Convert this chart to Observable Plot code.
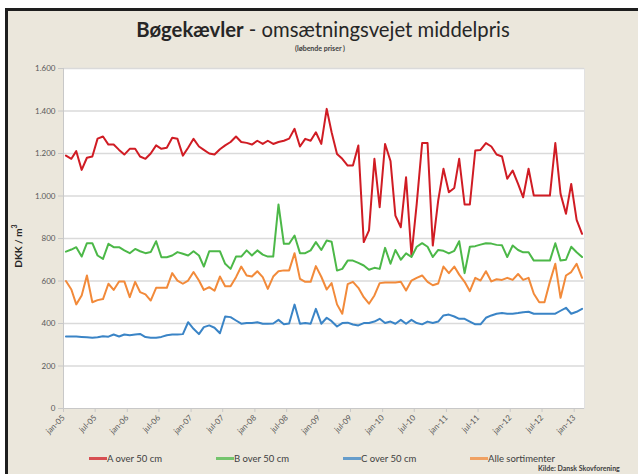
<!DOCTYPE html>
<html>
<head>
<meta charset="utf-8">
<script src="https://cdn.jsdelivr.net/npm/d3@7"></script>
<script src="https://cdn.jsdelivr.net/npm/@observablehq/plot@0.6"></script>
<style>
  html, body { margin: 0; padding: 0; background: #ffffff; }
  #wrap { position: relative; width: 638px; height: 474px; overflow: hidden; font-family: Lato, "Open Sans", sans-serif; }
  #frame { position: absolute; left: 5px; top: 8px; right: -10px; bottom: -10px; background: #ebe7dc; border-left: 3px solid #1e1e1e; border-top: 3px solid #1e1e1e; }
  #chart { position: absolute; left: 0; top: 0; }
  .t { position: absolute; white-space: nowrap; color: #262626; }
  #title { left: 0; width: 646px; top: 17px; text-align: center; font-size: 20.3px; }
  #sub { left: 0; width: 640px; top: 44px; text-align: center; font-size: 7px; font-weight: bold; color: #404040; }
  #ylab { left: 17px; top: 246px; transform: translate(-50%, -50%) rotate(-90deg); font-size: 10px; font-weight: bold; }
  #src { left: 538px; top: 464px; font-size: 7px; font-weight: bold; color: #404040; }
  .leg { position: absolute; top: 453px; font-size: 9.5px; color: #404040; display: flex; align-items: center; white-space: nowrap; }
  .leg span.sw { display: inline-block; width: 18px; height: 3px; margin-right: 0px; }
  #chart g[aria-label^="y-axis"] line, #chart g[aria-label^="y-axis"] path,
  #chart g[aria-label^="x-axis"] line, #chart g[aria-label^="x-axis"] path { stroke: #c8c8c8; }
  #chart g[aria-label^="x-axis"] text { font-size: 8px; }
</style>
</head>
<body>
<div id="wrap">
  <div id="frame"></div>
  <div id="chart"></div>
  <div class="t" id="title"><b>Bøgekævler</b> - omsætningsvejet middelpris</div>
  <div class="t" id="sub">(løbende priser )</div>
  <div class="t" id="ylab">DKK / m<sup style="font-size:7px">3</sup></div>
  <div class="t" id="src">Kilde: Dansk Skovforening</div>
  <div id="legend"></div>
</div>
<script>
// Monthly series, first value = January 2005
const seriesNames = ["A over 50 cm", "B over 50 cm", "C over 50 cm", "Alle sortimenter"];
const seriesColors = ["#d01c24", "#4cb848", "#3a84c6", "#f28a3a"];
const legendX = [89, 216, 343, 470];

const aOver50 = [1190,1175,1211,1123,1180,1186,1270,1280,1242,1242,1217,1195,1222,1222,1186,1175,1200,1238,1222,1227,
  1274,1269,1190,1227,1269,1233,1217,1200,1195,1220,1238,1254,1280,1254,1250,1242,1260,1245,1260,1245,
  1254,1260,1270,1316,1233,1269,1260,1300,1245,1410,1300,1198,1175,1143,1143,1238,783,838,1175,947,
  1245,1165,908,853,1088,720,963,1249,1249,767,979,1128,1018,1038,1175,960,960,1214,1217,1249,
  1233,1195,1186,1081,1120,1057,994,1128,1002,1002,1002,1002,1249,1010,916,1057,888,822];

const bOver50 = [738,748,759,715,778,778,720,704,775,759,759,744,731,751,740,731,736,787,712,712,
  720,736,728,720,740,720,668,740,740,740,681,657,715,715,744,720,744,724,715,715,
  960,775,775,814,731,731,744,783,746,791,785,649,657,696,696,685,673,653,662,657,
  756,681,746,700,730,713,761,778,761,713,746,742,730,742,787,637,761,764,771,778,
  776,770,768,713,767,746,735,735,696,696,696,696,778,696,700,761,735,713];

const cOver50 = [339,339,339,337,335,333,335,340,338,348,339,348,345,348,351,336,333,333,337,345,
  348,348,350,406,375,350,383,391,380,354,433,430,414,399,402,402,406,399,399,400,
  417,396,400,489,399,402,399,469,399,427,411,386,402,404,395,391,402,402,409,422,
  402,409,399,417,399,417,402,396,409,402,409,438,442,433,422,422,409,396,396,427,
  438,446,449,446,446,449,453,455,446,446,446,446,446,460,474,446,455,469];

const alle = [600,560,490,532,626,500,510,515,587,558,598,598,524,596,548,537,508,568,568,568,
  637,602,587,602,642,602,558,571,554,621,575,575,618,668,626,621,646,618,563,621,
  646,650,650,731,610,596,596,670,620,560,590,490,446,585,596,568,524,493,532,590,
  593,593,593,596,555,602,615,626,596,580,588,668,637,668,630,596,552,615,602,646,
  598,608,605,615,605,633,605,615,540,500,500,596,681,521,626,642,681,615];

const yTicks = [0, 200, 400, 600, 800, 1000, 1200, 1400, 1600];
const monthNames = ["jan","feb","mar","apr","maj","jun","jul","aug","sep","okt","nov","dec"];

const start = new Date(Date.UTC(2005, 0, 15));
const allSeries = [aOver50, bOver50, cOver50, alle];
const rows = [];
allSeries.forEach((vals, s) => vals.forEach((v, i) => rows.push({date: d3.utcMonth.offset(start, i), value: v, series: seriesNames[s]})));

const xDomain = [new Date(Date.UTC(2005, 0, 1)), new Date(Date.UTC(2013, 2, 1))];
const xTicks = d3.utcMonth.every(6).range(new Date(Date.UTC(2005, 0, 1)), new Date(Date.UTC(2013, 0, 2)));
const dk = d3.formatLocale({decimal: ",", thousands: ".", grouping: [3], currency: ["", " kr"]});
const yFmt = dk.format(",d");

const chart = Plot.plot({
  width: 638,
  height: 474,
  marginLeft: 63,
  marginRight: 54,
  marginTop: 68,
  marginBottom: 66,
  style: {background: "transparent", fontFamily: "Lato, 'Open Sans', sans-serif", fontSize: "8px", color: "#595959", overflow: "visible"},
  x: {type: "utc", domain: xDomain, ticks: xTicks, tickFormat: d => `${monthNames[d.getUTCMonth()]}-${String(d.getUTCFullYear() % 100).padStart(2, "0")}`, tickRotate: -45, tickSize: 4, tickPadding: 4, label: null},
  y: {domain: [0, 1600], ticks: yTicks, tickFormat: yFmt, tickSize: 5, tickPadding: 3, label: null},
  color: {domain: seriesNames, range: seriesColors},
  marks: [
    Plot.frame({fill: "white", stroke: "#e2e2e2"}),
    Plot.ruleY(yTicks.filter(d => d > 0), {stroke: "#dadada", strokeWidth: 1.5}),
    Plot.ruleY([0], {stroke: "#c8c8c8"}),
    Plot.ruleX([xDomain[0]], {stroke: "#c8c8c8"}),
    Plot.line(rows, {x: "date", y: "value", z: "series", stroke: "series", strokeWidth: 2})
  ]
});
document.getElementById("chart").appendChild(chart);

const legend = document.getElementById("legend");
seriesNames.forEach((name, i) => {
  const d = document.createElement("div");
  d.className = "leg";
  d.style.left = legendX[i] + "px";
  d.innerHTML = `<span class="sw" style="background:${seriesColors[i]};opacity:0.75"></span>${name}`;
  legend.appendChild(d);
});
</script>
</body>
</html>
